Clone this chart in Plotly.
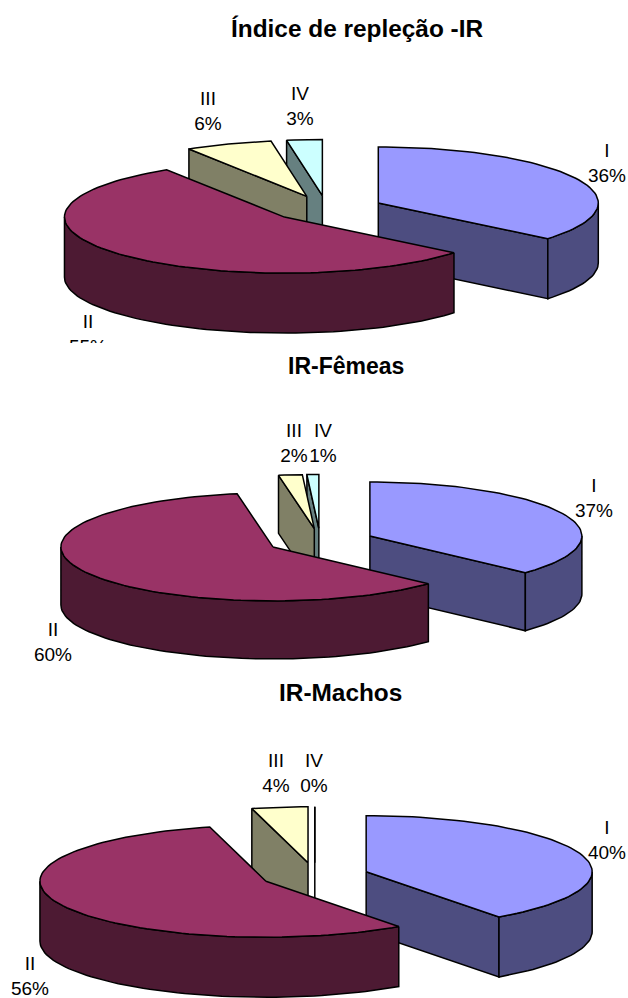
import numpy as np
import plotly.graph_objects as go

# Shares of each repletion stage (percent); the labels show them as whole numbers
categories = ["I", "II", "III", "IV"]
ir_total = [36.0, 55.0, 6.4, 2.6]
ir_femeas = [36.9, 60.4, 1.8, 0.9]
ir_machos = [40.0, 56.0, 4.0, 0.0]

titles = ["Índice de repleção -IR", "IR-Fêmeas", "IR-Machos"]

# Slice colours: top face and shaded side
TOP = ["#9999FF", "#993366", "#FFFFCC", "#CCFFFF"]
SIDE = ["#4D4D80", "#4D1A33", "#808066", "#668080"]

PAGE_W, PAGE_H = 628, 998
FONT = "Liberation Sans"

# One pixel-scaled panel per pie: vertical band, projected centre, radii, wall depth
PANELS = [
    dict(values=ir_total, band=(0, 343), cx=327, cy=208.5, rx=220, ry=56, depth=60, explode=56.7, lift=13,
         title_xy=(357, 28), title_size=24.4,
         label_xy=[(607, 164.5), (88, 335.5), (208, 112.5), (300, 107.5)]),
    dict(values=ir_femeas, band=(343, 672), cx=320.4, cy=541, rx=212, ry=54, depth=58, explode=54, lift=12.5,
         title_xy=(346, 366), title_size=23,
         label_xy=[(594, 500), (53, 644), (294, 444.5), (323, 444.5)]),
    dict(values=ir_machos, band=(672, 998), cx=314.8, cy=875.7, rx=226, ry=56, depth=60, explode=54, lift=13,
         title_xy=(340, 692), title_size=24.4,
         label_xy=[(607, 842), (30, 977.5), (276, 775), (314, 775)]),
]


def arc(ax, ay, rx, ry, a0, a1):
    """Rim points from a0 to a1, degrees clockwise from twelve o'clock."""
    n = max(2, int(abs(a1 - a0) / 2) + 2)
    t = np.radians(np.linspace(a0, a1, n))
    return ax + rx * np.sin(t), ay - ry * np.cos(t)


def polygon(x, y, color, xa, ya):
    return go.Scatter(
        x=np.append(x, x[0]), y=np.append(y, y[0]),
        xaxis=xa, yaxis=ya, mode="lines", fill="toself",
        fillcolor=color, line=dict(color="#000000", width=1.5),
        hoverinfo="skip", showlegend=False,
    )


def slice_traces(panel, idx, a0, a1, xa, ya):
    """Visible cut faces, outer wall and top face of one exploded slice."""
    mid = np.radians((a0 + a1) / 2)
    ax = panel["cx"] + panel["explode"] * np.sin(mid)
    ay = panel["cy"] - panel["lift"] * np.cos(mid)
    rx, ry, d = panel["rx"], panel["ry"], panel["depth"]
    rim_x, rim_y = arc(ax, ay, rx, ry, a0, a1)
    out = []
    # A cut face shows only when it turns towards the viewer
    faces = []
    if np.sin(np.radians(a0)) < 0:
        faces.append((rim_x[0], rim_y[0]))
    if np.sin(np.radians(a1)) > 1e-9:
        faces.append((rim_x[-1], rim_y[-1]))
    for ex, ey in faces:
        out.append(polygon(np.array([ax, ex, ex, ax]), np.array([ay, ey, ey + d, ay + d]), SIDE[idx], xa, ya))
    w0, w1 = max(a0, 90), min(a1, 270)
    if w1 > w0:
        wx, wy = arc(ax, ay, rx, ry, w0, w1)
        out.append(polygon(np.concatenate([wx, wx[::-1]]), np.concatenate([wy, wy[::-1] + d]), SIDE[idx], xa, ya))
    out.append(polygon(np.concatenate([[ax], rim_x]), np.concatenate([[ay], rim_y]), TOP[idx], xa, ya))
    return out


fig = go.Figure()
layout = dict(
    width=PAGE_W, height=PAGE_H, margin=dict(l=0, r=0, t=0, b=0),
    paper_bgcolor="#FFFFFF", plot_bgcolor="#FFFFFF", showlegend=False, autosize=False,
)
annotations = []

for p, panel in enumerate(PANELS):
    suffix = "" if p == 0 else str(p + 1)
    xa, ya = "x" + suffix, "y" + suffix
    top, bottom = panel["band"]
    layout["xaxis" + suffix] = dict(range=[0, PAGE_W], domain=[0, 1], visible=False, anchor=ya, fixedrange=True)
    layout["yaxis" + suffix] = dict(range=[bottom, top], domain=[1 - bottom / PAGE_H, 1 - top / PAGE_H],
                                    visible=False, anchor=xa, fixedrange=True)

    values = panel["values"]
    edges = np.concatenate([[0], np.cumsum(values)]) * 3.6
    # Back slices first so the nearer ones overlap them
    for idx in (3, 2, 0, 1):
        for trace in slice_traces(panel, idx, edges[idx], edges[idx + 1], xa, ya):
            fig.add_trace(trace)

    fig.add_trace(go.Scatter(
        x=[q[0] for q in panel["label_xy"]], y=[q[1] for q in panel["label_xy"]],
        xaxis=xa, yaxis=ya, mode="text", cliponaxis=True,
        text=[f"{c}<br>{v:.0f}%" for c, v in zip(categories, values)],
        textposition="middle center",
        textfont=dict(family=FONT, size=19, color="#000000"),
        hoverinfo="skip", showlegend=False,
    ))

    annotations.append(dict(
        text=f"<b>{titles[p]}</b>", x=panel["title_xy"][0], y=panel["title_xy"][1],
        xref=xa, yref=ya, showarrow=False, xanchor="center", yanchor="middle",
        font=dict(family=FONT, size=panel["title_size"], color="#000000"),
    ))

layout["annotations"] = annotations
fig.update_layout(**layout)
fig.write_html("out.html", config={"displayModeBar": False})
